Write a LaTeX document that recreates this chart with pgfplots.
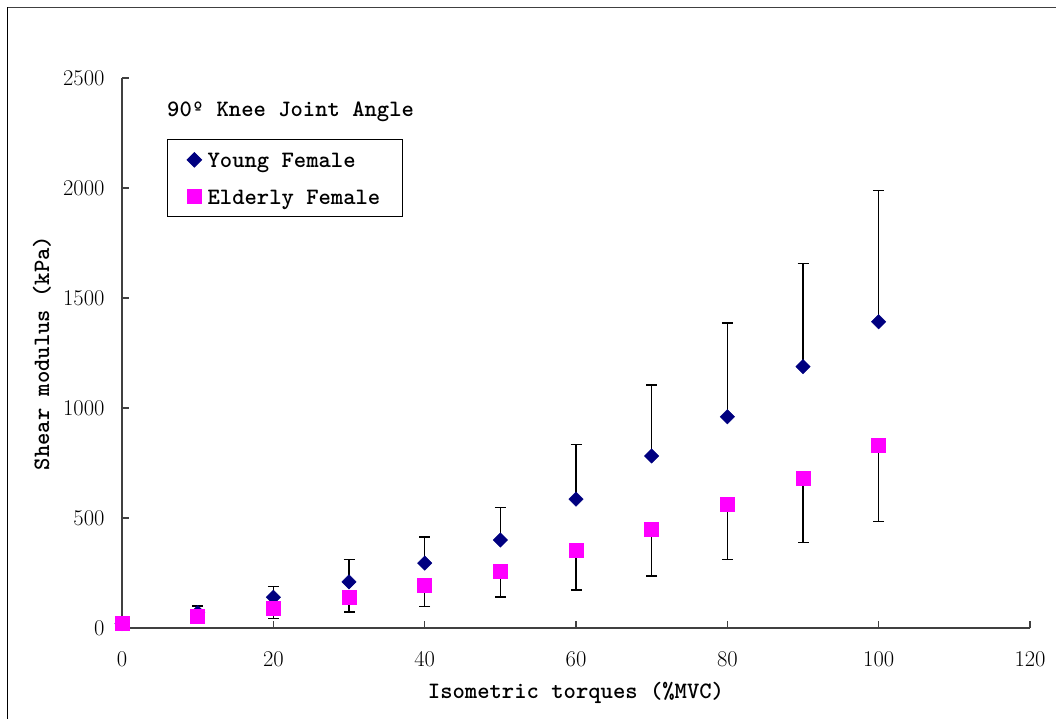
\documentclass[border=0pt]{standalone}
\usepackage{pgfplots}
\usepackage{pgfplotstable}
\pgfplotsset{compat=1.18}

\definecolor{navyblue}{RGB}{0,0,128}
\definecolor{brightmagenta}{RGB}{255,0,255}
\newcommand\lblfont{\fontsize{23.5}{28}\selectfont\ttfamily\bfseries}

% torque (%MVC), mean shear modulus (kPa), SD
\pgfplotstableread{
x    y     e
0    20    0
10   70    30
20   140   50
30   210   100
40   295   118
50   400   147
60   586   247
70   782   322
80   960   426
90   1188  470
100  1392  596
}\young

\pgfplotstableread{
x    y     e
0    22    0
10   52    20
20   88    45
30   138   65
40   195   98
50   259   118
60   353   180
70   450   214
80   564   252
90   680   290
100  830   347
}\elderly

\begin{document}
\begin{tikzpicture}
\path[use as bounding box] (0,0) rectangle (1056pt,-719pt);
% chart area frame
\draw[line width=1.7pt, black!75] (7.5pt,-7.5pt) -- (1070pt,-7.5pt);
\draw[line width=1.5pt, black] (7.5pt,-7.5pt) -- (7.5pt,-730pt);
\begin{axis}[
  at={(122pt,-628pt)}, anchor=south west,
  scale only axis, width=908pt, height=550pt,
  xmin=0, xmax=120, ymin=0, ymax=2500,
  xtick={0,20,...,120}, ytick={0,500,...,2500},
  axis lines=left,
  axis line style={-, line width=1.2pt, black!75},
  tick align=inside, major tick length=7pt,
  tick style={line width=1.2pt, black!75},
  /pgf/number format/assume math mode=true,
  /pgf/number format/1000 sep={},
  scaled ticks=false,
  ticklabel style={font=\fontsize{22.5}{27}\selectfont},
  xticklabel style={yshift=-20pt},
  yticklabel style={xshift=-14pt},
  xlabel={Isometric torques (\%MVC)},
  ylabel={Shear modulus (kPa)},
  label style={font=\lblfont},
  xlabel style={at={(axis description cs:0.5,-0.118)}, anchor=center},
  ylabel style={at={(axis description cs:-0.0881,0.5)}, anchor=center},
  clip=false,
  legend cell align=left,
  legend image code/.code={\draw[mark repeat=1, mark phase=1, #1] plot coordinates {(0pt,0pt)};},
  legend style={at={(0.0492,0.8885)}, anchor=north west, draw=black, line width=1pt,
    font=\lblfont, inner xsep=20pt, inner ysep=7.5pt, row sep=12pt,
    nodes={inner sep=2pt, text height=18pt, text depth=3pt},
    /tikz/every odd column/.append style={column sep=4pt}},
]
\addplot[only marks, mark=square*, mark size=5.1pt,
  mark options={rotate=45, fill=navyblue, draw=navyblue},
  error bars/.cd, y dir=plus, y explicit,
  error bar style={line width=1.3pt, black},
  error mark options={rotate=90, mark size=5.5pt, line width=1.3pt, black}]
  table[x=x, y=y, y error=e] {\young};
\addlegendentry{Young Female}
\addplot[only marks, mark=square*, mark size=7pt,
  mark options={fill=brightmagenta, draw=brightmagenta},
  error bars/.cd, y dir=minus, y explicit,
  error bar style={line width=1.3pt, black},
  error mark options={rotate=90, mark size=5.5pt, line width=1.3pt, black}]
  table[x=x, y=y, y error=e] {\elderly};
\addlegendentry{Elderly Female}
\node[anchor=base west, inner sep=0pt, font=\lblfont] at (rel axis cs:0.0496,0.9309) {90º Knee Joint Angle};
\end{axis}
\end{tikzpicture}
\end{document}
